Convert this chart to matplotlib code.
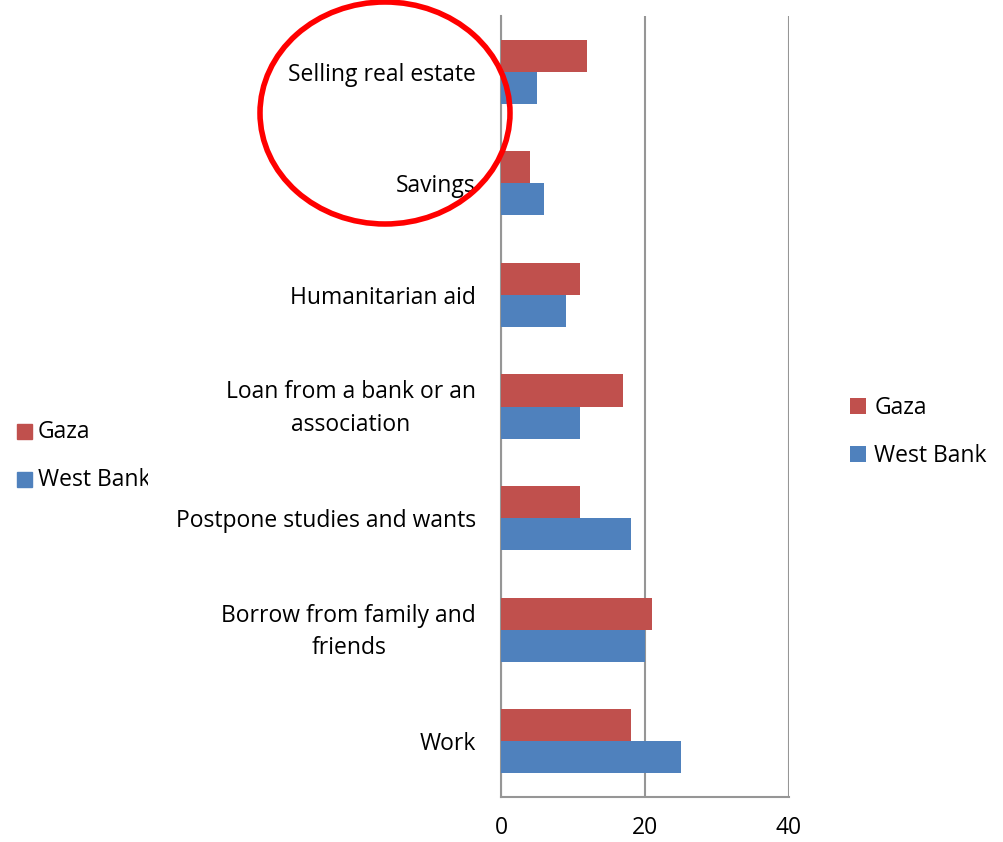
import matplotlib.pyplot as plt
import matplotlib.patches as mpatches
import matplotlib.transforms as mtransforms
import numpy as np

plt.rcParams['font.family'] = ['Open Sans', 'DejaVu Sans']

# dados (de baixo para cima)
categorias = ['Work', 'Borrow from family and\nfriends', 'Postpone studies and wants',
              'Loan from a bank or an\nassociation', 'Humanitarian aid', 'Savings',
              'Selling real estate']
gaza = [18, 21, 11, 17, 11, 4, 12]
west_bank = [25, 20, 18, 11, 9, 6, 5]
series = ['Gaza', 'West Bank']
cores = ['#C0504D', '#4F81BD']
xticks = [0, 20, 40]

fs = 16.5

fig = plt.figure(figsize=(10.04, 8.42), dpi=100)
ax = fig.add_axes([501/1004, 45/842, 288/1004, 781/842])

y = np.arange(len(categorias))
h = 0.287
b1 = ax.barh(y + h/2, gaza, height=h, color=cores[0], label=series[0], zorder=3)
b2 = ax.barh(y - h/2, west_bank, height=h, color=cores[1], label=series[1], zorder=3)

ax.set_xlim(0, 40)
ax.set_ylim(-0.5, len(categorias) - 0.5)
ax.set_xticks(xticks)
ax.set_xticklabels([str(t) for t in xticks], fontsize=fs)
ax.set_yticks(y)
ax.set_yticklabels(categorias, fontsize=fs, ha='center', multialignment='center', linespacing=1.45)
ax.tick_params(axis='both', length=0)
ax.tick_params(axis='x', pad=14)

# posicionar rótulos centrados à esquerda
fig.canvas.draw()
r = fig.canvas.get_renderer()
for lab in ax.get_yticklabels():
    bb = lab.get_window_extent(r)
    dy = 5 if '\n' in lab.get_text() else 0
    lab.set_x(0)
    lab.set_transform(ax.get_yaxis_transform() + mtransforms.ScaledTranslation(-(25 + bb.width/2)/100, dy/100, fig.dpi_scale_trans))

ax.grid(axis='x', color='#969696', linewidth=1.5, zorder=0)
for s in ['top', 'right']:
    ax.spines[s].set_visible(False)
ax.spines['left'].set_color('#969696')
ax.spines['bottom'].set_color('#969696')
ax.spines['left'].set_linewidth(1.5)
ax.spines['bottom'].set_linewidth(1.5)

# legenda da direita
fig.legend(handles=[b1, b2], loc='center left', bbox_to_anchor=(829/1004, 1 - 432/842),
           frameon=False, fontsize=fs, handlelength=0.72, handleheight=0.72,
           handletextpad=0.35, labelspacing=1.05)

# legenda da esquerda (cortada)
ax2 = fig.add_axes([0, 0, 148/1004, 1])
ax2.set_xlim(0, 148)
ax2.set_ylim(842, 0)
ax2.axis('off')
for i, (nome, cor) in enumerate(zip(series, cores)):
    yy = 432 + i * 48
    ax2.add_patch(mpatches.Rectangle((17, yy - 8), 15, 15, color=cor, clip_on=True))
    ax2.text(38, yy, nome, fontsize=fs, va='center', ha='left', clip_on=True)

# círculo vermelho
circ = mpatches.Ellipse((385/1004, 1 - 113/842), 250/1004, 222/842, transform=fig.transFigure,
                        fill=False, edgecolor='red', linewidth=4)
fig.add_artist(circ)

plt.savefig('out.png', dpi=100)
